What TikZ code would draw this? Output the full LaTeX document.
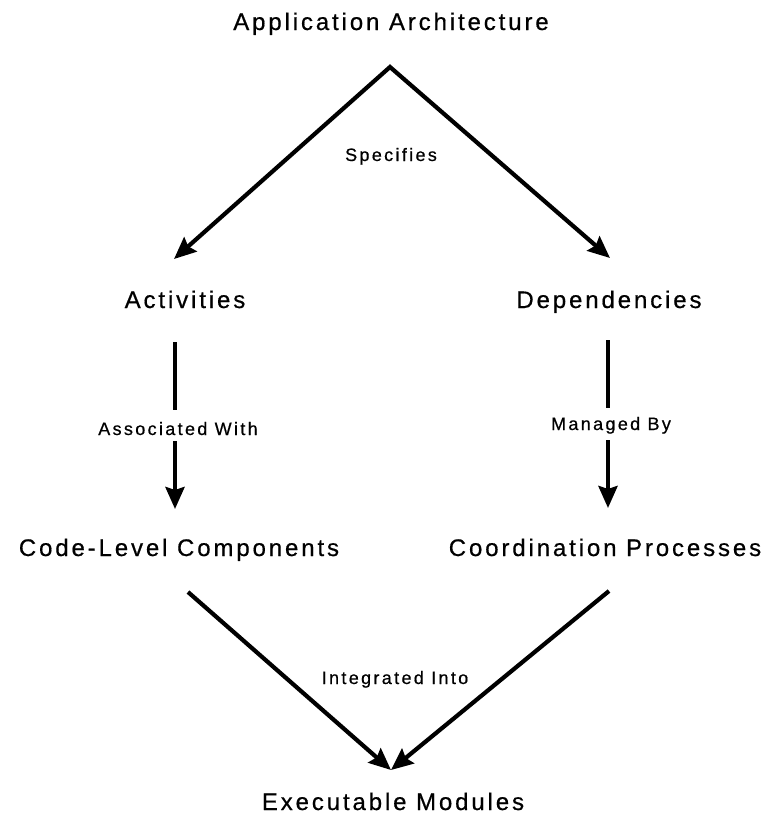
\documentclass[tikz,border=0pt]{standalone}
\usepackage{fontspec}
\setmainfont{Liberation Sans}[FakeBold=0.6]
\usetikzlibrary{arrows.meta}

\tikzset{
  concept/.style={font=\fontsize{24}{28}\selectfont\addfontfeature{LetterSpace=12},
    inner sep=0pt, anchor=base},
  relation/.style={font=\fontsize{18}{21}\selectfont\addfontfeature{LetterSpace=13},
    inner sep=0pt, anchor=base, text height=12pt, text depth=4pt},
  headtip/.tip={Stealth[length=22pt,width=19pt,inset=3pt]},
  flow/.style={line width=4.2pt, line join=miter, -{headtip}},
  plain/.style={line width=4.2pt}
}

\begin{document}
\begin{tikzpicture}[x=1pt,y=-1pt]
  \useasboundingbox (0,0) rectangle (772,823);

  % concepts
  \node[concept] (arch)  at (391,30)  {Application Architecture};
  \node[concept] (act)   at (185,308) {Activities};
  \node[concept] (dep)   at (609,308) {Dependencies};
  \node[concept] (code)  at (179,556) {Code-Level Components};
  \node[concept] (coord) at (605,556) {Coordination Processes};
  \node[concept] (exec)  at (393,810) {Executable Modules};

  % relation labels
  \node[relation] (spec)    at (391,161) {Specifies};
  \node[relation] (assoc)   at (178,435) {Associated With};
  \node[relation] (managed) at (611,430) {Managed By};
  \node[relation] (integ)   at (395,684) {Integrated Into};

  % connector end points
  \coordinate (apex)     at (390,67);
  \coordinate (actin)    at (174,259);
  \coordinate (depin)    at (610,258);
  \coordinate (actout)   at (175,342);
  \coordinate (codein)   at (175,509);
  \coordinate (depout)   at (608,340);
  \coordinate (coordin)  at (608,508);
  \coordinate (codeout)  at (188,592);
  \coordinate (coordout) at (609,591);
  \coordinate (execin)   at (391,770);

  % gaps left around the labels on the vertical connectors
  \coordinate (assoctop) at ([yshift=13pt]assoc.north);
  \coordinate (assocbot) at ([yshift=-2pt]assoc.south);
  \coordinate (mantop)   at ([yshift=10pt]managed.north);
  \coordinate (manbot)   at ([yshift=-6pt]managed.south);

  % Application Architecture specifies activities and dependencies
  \draw[flow, {headtip}-{headtip}] (actin) -- (apex) -- (depin);

  % activities are associated with code-level components
  \draw[plain] (actout) -- (actout |- assoctop);
  \draw[flow] (codein |- assocbot) -- (codein);

  % dependencies are managed by coordination processes
  \draw[plain] (depout) -- (depout |- mantop);
  \draw[flow] (coordin |- manbot) -- (coordin);

  % both are integrated into executable modules
  \draw[flow] (codeout) -- (execin);
  \draw[flow] (coordout) -- (execin);
\end{tikzpicture}
\end{document}
